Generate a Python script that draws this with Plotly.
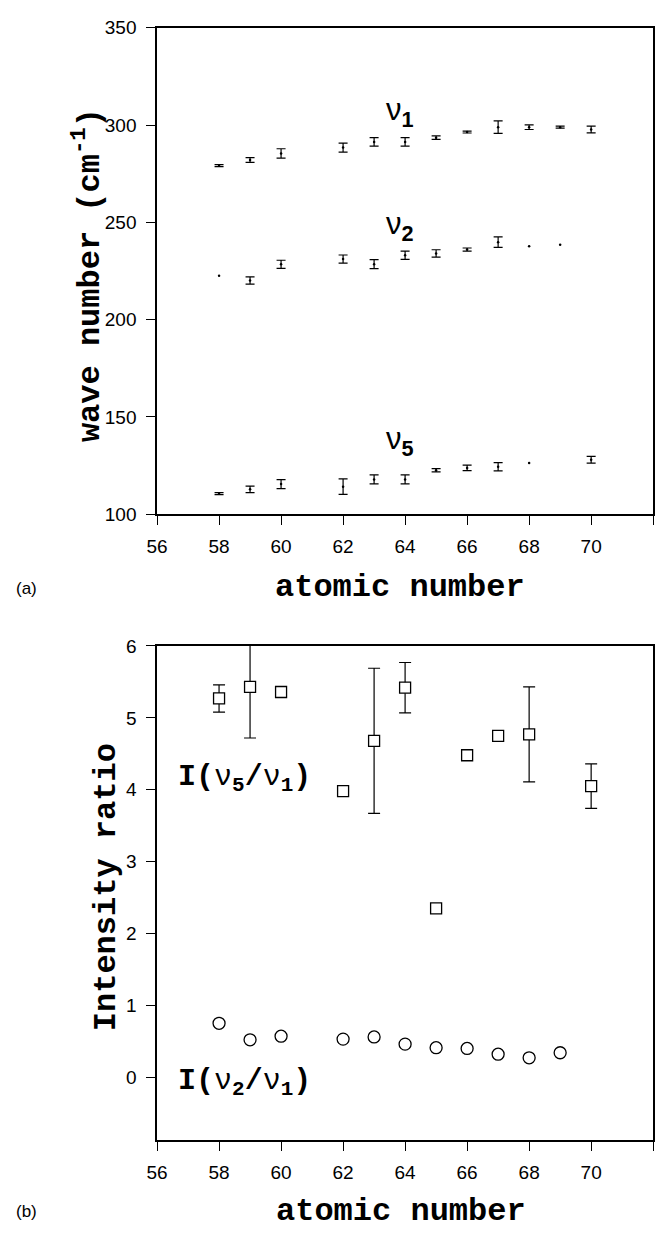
import plotly.graph_objects as go

# ---- data: top panel (wave numbers, cm^-1) ----
z_v1 = [58, 59, 60, 62, 63, 64, 65, 66, 67, 68, 69, 70]
nu1 = [279.1, 282.0, 285.4, 288.4, 291.3, 291.3, 293.5, 296.4, 298.9, 298.9, 298.9, 297.7]
nu1_err = [0.5, 1.2, 2.4, 2.3, 2.2, 2.2, 0.9, 0.5, 3.2, 1.2, 0.5, 1.7]

z_v2 = [58, 59, 60, 62, 63, 64, 65, 66, 67, 68, 69]
nu2 = [222.6, 220.1, 228.4, 231.1, 228.5, 233.1, 234.0, 236.0, 239.8, 237.7, 238.5]
nu2_err = [None, 1.9, 2.1, 2.1, 2.3, 2.1, 1.9, 0.8, 2.7, None, None]

z_v5 = [58, 59, 60, 62, 63, 64, 65, 66, 67, 68, 70]
nu5 = [110.6, 112.8, 115.5, 114.2, 117.9, 117.9, 122.6, 123.8, 124.4, 126.3, 128.0]
nu5_err = [0.5, 1.7, 2.3, 4.0, 2.3, 2.3, 0.8, 1.4, 2.1, None, 1.7]

# ---- data: bottom panel (intensity ratios) ----
z_r51 = [58, 59, 60, 62, 63, 64, 65, 66, 67, 68, 70]
r51 = [5.27, 5.43, 5.36, 3.98, 4.68, 5.42, 2.35, 4.48, 4.75, 4.77, 4.05]
r51_err = [0.19, 0.71, None, None, 1.01, 0.35, None, None, None, 0.66, 0.31]

z_r21 = [58, 59, 60, 62, 63, 64, 65, 66, 67, 68, 69]
r21 = [0.75, 0.52, 0.57, 0.53, 0.56, 0.46, 0.41, 0.40, 0.32, 0.27, 0.34]

x_ticks = [56, 58, 60, 62, 64, 66, 68, 70, 72]
y1_ticks = [100, 150, 200, 250, 300, 350]
y2_ticks = [0, 1, 2, 3, 4, 5, 6]

W, H = 663, 1234
MONO = "Liberation Mono, Courier New, monospace"
SANS = "Liberation Sans, Arial, sans-serif"

fig = go.Figure()


def with_err(xs, ys, es):
    keep = [i for i, e in enumerate(es) if e is not None]
    return [xs[i] for i in keep], [ys[i] for i in keep], [es[i] for i in keep]


def eb(arr, w):
    return dict(type="data", array=arr, visible=True, color="black", thickness=1.2, width=w)


# top panel: error bars (only where present) + small dots for every point
for zz, vv, ee in [(z_v1, nu1, nu1_err), (z_v2, nu2, nu2_err), (z_v5, nu5, nu5_err)]:
    ex, ey, ea = with_err(zz, vv, ee)
    fig.add_trace(go.Scatter(x=ex, y=ey, mode="markers", xaxis="x", yaxis="y",
                             marker=dict(size=1, color="rgba(0,0,0,0)"),
                             error_y=eb(ea, 4.5), showlegend=False, hoverinfo="skip"))
    fig.add_trace(go.Scatter(x=zz, y=vv, mode="markers", xaxis="x", yaxis="y",
                             marker=dict(symbol="circle", size=2.5, color="black"),
                             showlegend=False))

# bottom panel
ex, ey, ea = with_err(z_r51, r51, r51_err)
fig.add_trace(go.Scatter(x=ex, y=ey, mode="markers", xaxis="x2", yaxis="y2",
                         marker=dict(size=1, color="rgba(0,0,0,0)"),
                         error_y=eb(ea, 6), showlegend=False, hoverinfo="skip"))
fig.add_trace(go.Scatter(x=z_r51, y=r51, mode="markers", xaxis="x2", yaxis="y2",
                         marker=dict(symbol="square", size=11, color="white",
                                     line=dict(color="black", width=1.3)),
                         showlegend=False))
fig.add_trace(go.Scatter(x=z_r21, y=r21, mode="markers", xaxis="x2", yaxis="y2",
                         marker=dict(symbol="circle", size=12, color="white",
                                     line=dict(color="black", width=1.3)),
                         showlegend=False))

# geometry (pixels -> paper)
xl, xr = 148.5, 653
t_top, t_bot = 18, 513
b_top, b_bot = 647, 1150
px = lambda v: v / W
py = lambda v: 1 - v / H

axis_common = dict(showline=True, linecolor="black", linewidth=1.5, mirror=True,
                   ticks="outside", ticklen=9, tickwidth=1.3, tickcolor="black",
                   showgrid=False, zeroline=False,
                   tickfont=dict(family=SANS, size=19, color="black"))

fig.update_layout(
    width=W, height=H, margin=dict(l=0, r=0, t=0, b=0),
    paper_bgcolor="white", plot_bgcolor="white",
    xaxis=dict(domain=[px(xl), px(xr)], range=[56, 72], tickvals=x_ticks,
               anchor="y", ticklabelstandoff=5, **axis_common),
    yaxis=dict(domain=[py(t_bot), py(t_top)], range=[100, 350], tickvals=y1_ticks,
               anchor="x", ticklabelstandoff=6, **axis_common),
    xaxis2=dict(domain=[px(xl), px(xr)], range=[56, 72], tickvals=x_ticks,
                anchor="y2", ticklabelstandoff=5, **axis_common),
    yaxis2=dict(domain=[py(b_bot), py(b_top)], range=[-0.88, 6], tickvals=y2_ticks,
                anchor="x2", ticklabelstandoff=6, **axis_common),
)

ann = []
nu_font = dict(family=SANS, size=31, color="black")
for yv, sub in [(306.5, "1"), (248.3, "2"), (137.4, "5")]:
    ann.append(dict(x=63.83, y=yv, xref="x", yref="y", text="ν<sub><b>%s</b></sub>" % sub,
                    showarrow=False, font=nu_font, xanchor="center", yanchor="middle"))

lab_font = dict(family=MONO, size=30, color="black")
ann.append(dict(x=56.6, y=4.15, xref="x2", yref="y2",
                text="<b>I(</b>ν<sub><b>5</b></sub><b>/</b>ν<sub><b>1</b></sub><b>)</b>",
                showarrow=False, font=lab_font, xanchor="left", yanchor="middle"))
ann.append(dict(x=56.6, y=-0.07, xref="x2", yref="y2",
                text="<b>I(</b>ν<sub><b>2</b></sub><b>/</b>ν<sub><b>1</b></sub><b>)</b>",
                showarrow=False, font=lab_font, xanchor="left", yanchor="middle"))

title_font = dict(family=MONO, size=32, color="black")
ann.append(dict(x=px(396), y=py(588), xref="paper", yref="paper", text="<b>atomic number</b>",
                showarrow=False, font=title_font, xanchor="center", yanchor="middle"))
ann.append(dict(x=px(397), y=py(1222), xref="paper", yref="paper", text="<b>atomic number</b>",
                showarrow=False, font=title_font, xanchor="center", yanchor="middle"))
ann.append(dict(x=px(78), y=py(270), xref="paper", yref="paper",
                text="<b>wave number (cm<sup>-1</sup>)</b>", textangle=-90,
                showarrow=False, font=title_font, xanchor="center", yanchor="middle"))
ann.append(dict(x=px(97), y=py(892), xref="paper", yref="paper",
                text="<b>Intensity ratio</b>", textangle=-90,
                showarrow=False, font=title_font, xanchor="center", yanchor="middle"))

panel_font = dict(family=SANS, size=17, color="black")
ann.append(dict(x=px(16), y=py(589), xref="paper", yref="paper", text="(a)",
                showarrow=False, font=panel_font, xanchor="center", yanchor="middle"))
ann.append(dict(x=px(16), y=py(1222), xref="paper", yref="paper", text="(b)",
                showarrow=False, font=panel_font, xanchor="center", yanchor="middle"))

fig.update_layout(annotations=ann)
fig.write_html("out.html")
